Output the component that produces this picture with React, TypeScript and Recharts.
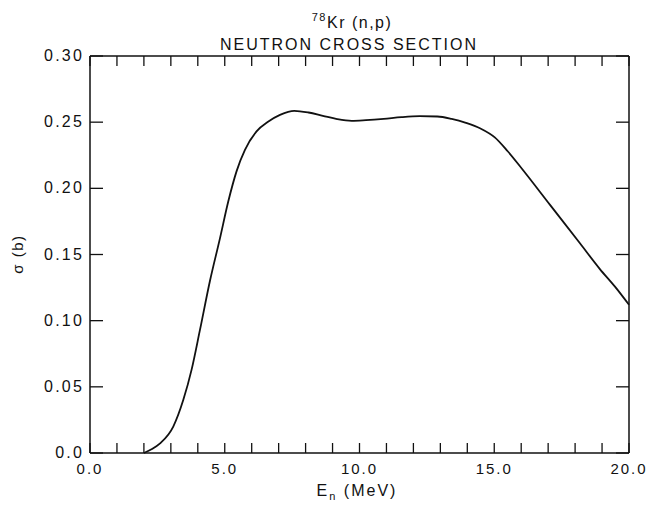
import React from 'react';
import { LineChart, Line, XAxis, YAxis } from 'recharts';

const energyMeV = [2.0, 2.3, 2.6, 3.09, 3.46, 3.77, 4.08, 4.45, 4.82, 5.13, 5.44, 5.75, 6.18, 6.62, 7.05, 7.58, 8.11, 8.64, 9.17, 9.71, 10.24, 10.9, 11.56, 12.23, 12.89, 13.42, 13.95, 14.49, 15.02, 15.5, 16.02, 17.07, 18.18, 18.92, 19.48, 20.0];
const sigmaBarn = [0.0, 0.003, 0.0073, 0.02, 0.04, 0.063, 0.093, 0.13, 0.162, 0.19, 0.213, 0.229, 0.243, 0.2505, 0.2555, 0.2586, 0.2573, 0.2548, 0.2523, 0.251, 0.2515, 0.2525, 0.2538, 0.2545, 0.2543, 0.2525, 0.2495, 0.2452, 0.2385, 0.228, 0.215, 0.1875, 0.1585, 0.139, 0.1257, 0.112];

const xTicks = [0, 1, 2, 3, 4, 5, 6, 7, 8, 9, 10, 11, 12, 13, 14, 15, 16, 17, 18, 19, 20];
const xLabelValues = [0, 5, 10, 15, 20];
const xLabelTexts = ['0.0', '5.0', '10.0', '15.0', '20.0'];
const yTicks = [0, 0.05, 0.1, 0.15, 0.2, 0.25, 0.3];
const yLabelTexts = ['0.0', '0.05', '0.10', '0.15', '0.20', '0.25', '0.30'];

const data = energyMeV.map((e, i) => ({ e, s: sigmaBarn[i] }));

const FONT = '"Liberation Sans", Arial, sans-serif';
const INK = '#111';

const BottomTick = (props: any) => {
  const { x, y, payload } = props;
  const idx = xLabelValues.findIndex((v) => Math.abs(v - payload.value) < 1e-9);
  return (
    <g>
      <line x1={x} x2={x} y1={y} y2={y - 10} stroke={INK} strokeWidth={1.3} />
      {idx >= 0 && (
        <text x={x} y={y + 21} textAnchor="middle" fontSize={15} letterSpacing={2} fontFamily={FONT} fill={INK}>
          {xLabelTexts[idx]}
        </text>
      )}
    </g>
  );
};

const TopTick = (props: any) => {
  const { x, y } = props;
  return <line x1={x} x2={x} y1={y} y2={y + 10} stroke={INK} strokeWidth={1.3} />;
};

const LeftTick = (props: any) => {
  const { x, y, payload } = props;
  const idx = yTicks.findIndex((v) => Math.abs(v - payload.value) < 1e-9);
  return (
    <g>
      <line x1={x} x2={x + 13} y1={y} y2={y} stroke={INK} strokeWidth={1.3} />
      <text x={x - 6} y={y + 5} textAnchor="end" fontSize={16} letterSpacing={2.2} fontFamily={FONT} fill={INK}>
        {idx >= 0 ? yLabelTexts[idx] : ''}
      </text>
    </g>
  );
};

const RightTick = (props: any) => {
  const { x, y } = props;
  return <line x1={x - 13} x2={x} y1={y} y2={y} stroke={INK} strokeWidth={1.3} />;
};

export default function App() {
  return (
    <div style={{ position: 'absolute', left: 0, top: 0, width: 648, height: 510, background: '#fff' }}>
      <LineChart width={648} height={510} data={data} margin={{ top: 55, right: 18, bottom: 0, left: 0 }}>
        <XAxis
          dataKey="e"
          type="number"
          domain={[0, 20]}
          ticks={xTicks}
          interval={0}
          height={57}
          tickSize={0}
          tickMargin={0}
          tickLine={false}
          axisLine={{ stroke: INK, strokeWidth: 1.5 }}
          tick={<BottomTick />}
        />
        <XAxis
          xAxisId="top"
          dataKey="e"
          orientation="top"
          type="number"
          domain={[0, 20]}
          ticks={xTicks}
          interval={0}
          height={1}
          tickSize={0}
          tickMargin={0}
          tickLine={false}
          axisLine={{ stroke: INK, strokeWidth: 1.5 }}
          tick={<TopTick />}
        />
        <YAxis
          type="number"
          domain={[0, 0.3]}
          ticks={yTicks}
          interval={0}
          width={90}
          tickSize={0}
          tickMargin={0}
          tickLine={false}
          axisLine={{ stroke: INK, strokeWidth: 1.5 }}
          tick={<LeftTick />}
        />
        <YAxis
          yAxisId="right"
          orientation="right"
          type="number"
          domain={[0, 0.3]}
          ticks={yTicks}
          interval={0}
          width={1}
          tickSize={0}
          tickMargin={0}
          tickLine={false}
          axisLine={{ stroke: INK, strokeWidth: 1.5 }}
          tick={<RightTick />}
        />
        <Line
          type="monotone"
          dataKey="s"
          stroke={INK}
          strokeWidth={1.8}
          dot={false}
          isAnimationActive={false}
        />
        <Line
          xAxisId="top"
          yAxisId="right"
          type="monotone"
          dataKey="s"
          stroke="none"
          strokeWidth={0}
          dot={false}
          activeDot={false}
          isAnimationActive={false}
        />
      </LineChart>
      <svg width={648} height={510} style={{ position: 'absolute', left: 0, top: 0, pointerEvents: 'none' }}>
        <text x={352} y={28} textAnchor="middle" fontFamily={FONT} fill={INK} letterSpacing={1.5}>
          <tspan fontSize={11} dy={-7}>78</tspan>
          <tspan fontSize={16} dy={7}>Kr (n,p)</tspan>
        </text>
        <text x={349} y={50} textAnchor="middle" fontSize={16} letterSpacing={2} fontFamily={FONT} fill={INK}>
          NEUTRON CROSS SECTION
        </text>
        <text x={23} y={254} textAnchor="middle" fontSize={15} letterSpacing={1.5} fontFamily={FONT} fill={INK} transform="rotate(-90 23 254)">
          σ (b)
        </text>
        <text x={357} y={496} textAnchor="middle" fontFamily={FONT} fill={INK} letterSpacing={2}>
          <tspan fontSize={16}>E</tspan>
          <tspan fontSize={11} dy={4}>n</tspan>
          <tspan fontSize={16} dy={-4}> (MeV)</tspan>
        </text>
      </svg>
    </div>
  );
}
